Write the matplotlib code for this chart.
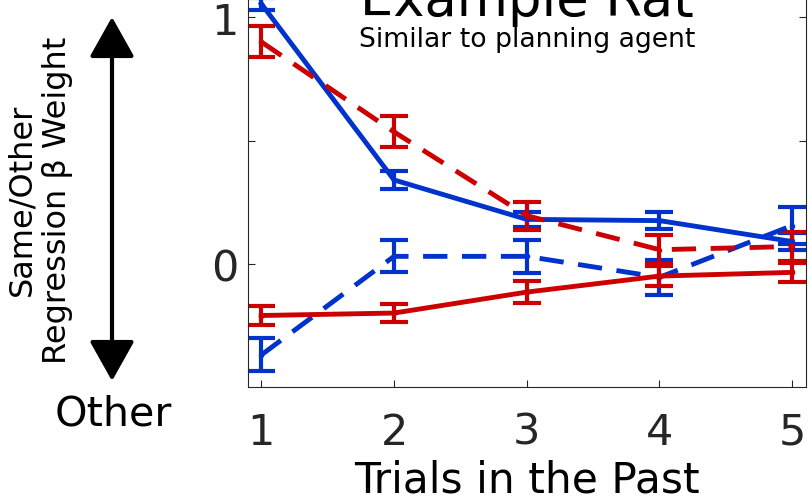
import numpy as np
import matplotlib
matplotlib.use("Agg")
import matplotlib.pyplot as plt
from matplotlib.patches import FancyArrowPatch

# weights per lag, mean and sem
trials = [1, 2, 3, 4, 5]

blue_solid = [1.055, 0.34, 0.18, 0.175, 0.09]
blue_solid_err = [0.025, 0.035, 0.03, 0.035, 0.035]

blue_dash = [-0.37, 0.03, 0.03, -0.055, 0.155]
blue_dash_err = [0.067, 0.065, 0.067, 0.07, 0.075]

red_solid = [-0.21, -0.20, -0.115, -0.05, -0.035]
red_solid_err = [0.038, 0.038, 0.045, 0.04, 0.04]

red_dash = [0.90, 0.535, 0.195, 0.057, 0.07]
red_dash_err = [0.063, 0.063, 0.057, 0.06, 0.06]

BLUE = '#0033CC'
RED = '#CC0000'
GREY = '#262626'

W, H = 808, 502
fig = plt.figure(figsize=(W / 100, H / 100), dpi=100)

# axes run past the top of the figure
left, right, bottom = 248, 805.5, 388
ylo, yhi = -0.5, 1.2
px_per_unit = 246.5
top = bottom - (yhi - ylo) * px_per_unit
ax = fig.add_axes([left / W, (H - bottom) / H, (right - left) / W, (bottom - top) / H])


def draw(y, err, color, ls):
    ax.errorbar(trials, y, yerr=err, color=color, ls=ls, lw=3.5,
                elinewidth=3, capsize=10, capthick=3,
                marker='o', markersize=3)


draw(blue_solid, blue_solid_err, BLUE, '-')
draw(blue_dash, blue_dash_err, BLUE, (0, (5, 3)))
draw(red_solid, red_solid_err, RED, '-')
draw(red_dash, red_dash_err, RED, (0, (5, 3)))

ax.set_xlim(0.9, 5.1)
ax.set_ylim(ylo, yhi)
ax.set_xticks(trials)
ax.set_yticks([0, 0.5, 1])
ax.set_yticklabels(['0', '', '1'])
ax.tick_params(direction='in', length=5, width=0.8, colors=GREY,
               labelsize=31, right=True, top=True)
ax.tick_params(axis='x', pad=17)
ax.tick_params(axis='y', pad=7)
for s in ax.spines.values():
    s.set_color(GREY)
    s.set_linewidth(0.8)

ax.set_xlabel('Trials in the Past', fontsize=30.5, labelpad=4)

ax.text(3, 1.01, 'Example Rat', fontsize=38, ha='center', va='baseline')
ax.text(3, 0.884, 'Similar to planning agent', fontsize=19.2,
        ha='center', va='baseline')

# direction arrow on the left
arrow = FancyArrowPatch((112 / W, (H - 18) / H), (112 / W, (H - 382) / H),
                        transform=fig.transFigure,
                        arrowstyle='<|-|>,head_length=25,head_width=14',
                        mutation_scale=1, lw=3, color='black',
                        shrinkA=0, shrinkB=0)
fig.add_artist(arrow)

fig.text(40 / W, (H - 200) / H, 'Same/Other\nRegression β Weight',
         rotation=90, fontsize=23, ha='center', va='center',
         multialignment='center', linespacing=1.2)
fig.text(113 / W, (H - 426) / H, 'Other', fontsize=29.7,
         ha='center', va='baseline')

fig.savefig('out.png', dpi=100)
